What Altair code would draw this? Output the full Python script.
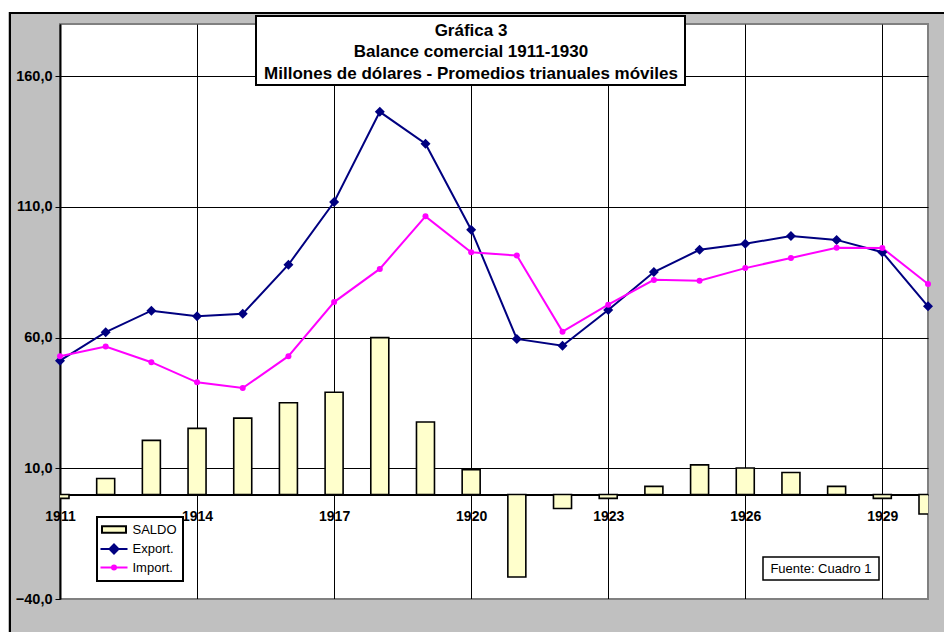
import altair as alt
import pandas as pd

# ---------------- data ----------------
years = list(range(1911, 1931))
saldo = [-1.5, 6.1, 20.7, 25.3, 29.2, 35.1, 39.1, 60.0, 27.7, 9.5,
         -31.6, -5.4, -1.5, 3.1, 11.3, 10.1, 8.4, 3.1, -1.5, -7.5]
export_vals = [51.2, 62.1, 70.3, 68.2, 69.1, 87.9, 111.9, 146.4, 134.2, 101.3,
               59.5, 56.9, 70.6, 85.1, 93.6, 95.9, 98.9, 97.4, 92.7, 72.0]
import_vals = [52.9, 56.6, 50.6, 42.9, 40.7, 52.9, 73.6, 86.3, 106.4, 92.7,
               91.4, 62.3, 72.6, 82.1, 81.8, 86.6, 90.5, 94.4, 94.3, 80.5]
y_ticks = [-40, 10, 60, 110, 160]
x_ticks = [1911, 1914, 1917, 1920, 1923, 1926, 1929]
series_names = ["SALDO", "Export.", "Import."]
title_lines = ["Gráfica 3", "Balance comercial 1911-1930",
               "Millones de dólares - Promedios trianuales móviles"]
source_note = "Fuente: Cuadro 1"

W, H = 868, 575
FONT = "Liberation Sans"

df_bar = pd.DataFrame({"year": years, "value": saldo})
df_exp = pd.DataFrame({"year": years, "value": export_vals})
df_imp = pd.DataFrame({"year": years, "value": import_vals})
df_leg = pd.DataFrame({"serie": series_names, "year": [years[0]] * 3, "value": [-1000] * 3})
one = pd.DataFrame({"k": [0]})

x_scale = alt.Scale(domain=[1911, 1930], nice=False, zero=False, padding=0)
y_scale = alt.Scale(domain=[-40, 180], nice=False, zero=False, padding=0)

x_axis = alt.Axis(values=x_ticks, format="d", title=None, offset=-104.5,
                  labelFont=FONT, labelFontSize=14, labelFontWeight="bold", labelColor="black",
                  labelFlush=False, labelPadding=10, labelOverlap=False,
                  domainColor="black", domainWidth=2, tickColor="black", tickSize=5, tickWidth=1,
                  grid=True, gridColor="black", gridWidth=1, gridOpacity=1)
y_axis = alt.Axis(values=y_ticks, title=None,
                  labelExpr="replace(format(datum.value, '.1f'), '.', ',')",
                  labelFont=FONT, labelFontSize=14.5, labelFontWeight="bold", labelColor="black",
                  labelPadding=3, domainColor="black", domainWidth=2,
                  tickColor="black", tickSize=5, tickWidth=1,
                  grid=True, gridWidth=1, gridOpacity=1,
                  gridColor={"condition": {"test": "datum.value == -40", "value": "#808080"},
                             "value": "black"})

x_enc = alt.X("year:Q", scale=x_scale, axis=x_axis)
y_enc = alt.Y("value:Q", scale=y_scale, axis=y_axis)

bars = alt.Chart(df_bar).mark_bar(fill="#FFFFCC", stroke="black", strokeWidth=1.6,
                                  size=18, clip=True).encode(
    x=x_enc, y=y_enc, y2=alt.datum(0))

exp_line = alt.Chart(df_exp).mark_line(color="#000080", strokeWidth=2).encode(x="year:Q", y="value:Q")
exp_pts = alt.Chart(df_exp).mark_point(shape="diamond", filled=True, size=100,
                                       color="#000080", opacity=1).encode(x="year:Q", y="value:Q")
imp_line = alt.Chart(df_imp).mark_line(color="#FF00FF", strokeWidth=2).encode(x="year:Q", y="value:Q")
imp_pts = alt.Chart(df_imp).mark_point(shape="circle", filled=True, size=36,
                                       color="#FF00FF", opacity=1).encode(x="year:Q", y="value:Q")

# legend (symbols drawn only in the legend)
p_saldo = "M-2.4,-0.65H2.4V0.65H-2.4Z"
p_exp = "M-2.7,0H2.7M0,-0.9L0.9,0L0,0.9L-0.9,0Z"
p_imp = "M-2.7,0H2.7M-0.4,0A0.4,0.4,0,1,1,0.4,0A0.4,0.4,0,1,1,-0.4,0Z"

leg_props = dict(title=None, orient="none", legendX=37, legendY=493,
                 fillColor="white", strokeColor="black", padding=6,
                 labelFont=FONT, labelFontSize=13, labelColor="black",
                 symbolSize=100, symbolOffset=4.5, labelOffset=12, rowPadding=3.5,
                 symbolStrokeWidth=2, symbolOpacity=1)

legend_layer = alt.Chart(df_leg).mark_point(filled=True, clip=True, strokeWidth=2, opacity=1).encode(
    x="year:Q", y="value:Q",
    shape=alt.Shape("serie:N", scale=alt.Scale(domain=series_names, range=[p_saldo, p_exp, p_imp]),
                    legend=alt.Legend(**leg_props)),
    fill=alt.Fill("serie:N", scale=alt.Scale(domain=series_names, range=["#FFFFCC", "#000080", "#FF00FF"]),
                  legend=alt.Legend(**leg_props)),
    stroke=alt.Stroke("serie:N", scale=alt.Scale(domain=series_names, range=["black", "#000080", "#FF00FF"]),
                      legend=alt.Legend(**leg_props)),
)

# frame decorations
top_strip = alt.Chart(one).mark_rect(fill="white", strokeWidth=0).encode(
    x=alt.value(-70), x2=alt.value(W + 120), y=alt.value(-30), y2=alt.value(-12))
outer_border = alt.Chart(one).mark_rect(fillOpacity=0, stroke="black", strokeWidth=2).encode(
    x=alt.value(-50), x2=alt.value(W + 200), y=alt.value(-11), y2=alt.value(H + 200))

title_box = alt.Chart(one).mark_rect(fill="white", stroke="black", strokeWidth=2).encode(
    x=alt.value(196), x2=alt.value(625), y=alt.value(-8), y2=alt.value(61))
title_layers = []
for line, yy in zip(title_lines, [6.5, 28, 49.5]):
    title_layers.append(alt.Chart(one).mark_text(text=line, font=FONT, fontSize=17, fontWeight="bold",
                                                 color="black", align="center", baseline="middle").encode(
        x=alt.value(411), y=alt.value(yy)))

src_box = alt.Chart(one).mark_rect(fill="white", stroke="black", strokeWidth=1.5).encode(
    x=alt.value(703), x2=alt.value(819), y=alt.value(533), y2=alt.value(556))
src_text = alt.Chart(one).mark_text(text=source_note, font=FONT, fontSize=13, color="black",
                                    align="center", baseline="middle").encode(
    x=alt.value(761), y=alt.value(545))

chart = alt.layer(
    bars, exp_line, imp_line, exp_pts, imp_pts, legend_layer,
    top_strip, outer_border, title_box, *title_layers, src_box, src_text
).properties(
    width=W, height=H, background="#C0C0C0",
    padding={"left": 52, "top": 16, "right": 16, "bottom": 33},
    autosize=alt.AutoSizeParams(type="none"),
).configure_view(stroke="#808080", strokeWidth=2, fill="white"
).configure_legend(strokeWidth=2)

chart.save("out.html", embed_options={"renderer": "svg", "actions": False})
